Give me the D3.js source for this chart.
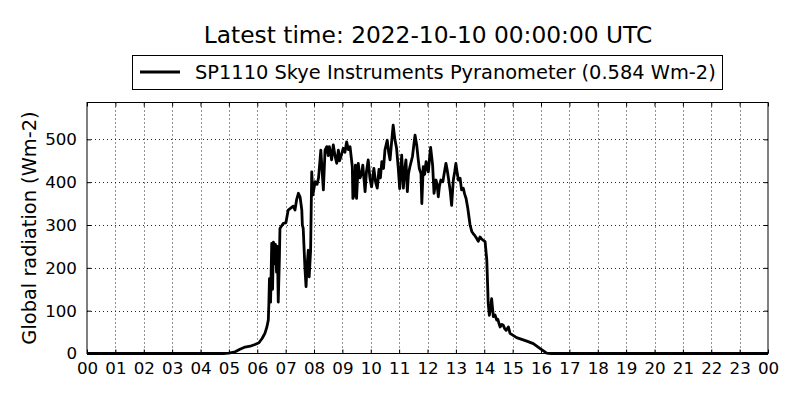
<!DOCTYPE html>
<html>
<head>
<meta charset="utf-8">
<script src="https://cdn.jsdelivr.net/npm/d3@7"></script>
<style>
  body { margin: 0; background: #fff; }
  svg { display: block; font-family: "DejaVu Sans", sans-serif; }
</style>
</head>
<body>
<svg id="chart" width="800" height="400"></svg>
<script>
// ---- data ----
const titleText = "Latest time: 2022-10-10 00:00:00 UTC";
const seriesName = "SP1110 Skye Instruments Pyranometer (0.584 Wm-2)";
const yLabel = "Global radiation (Wm-2)";
const hourTicks = d3.range(0, 25);
const hourTickLabels = hourTicks.map(h => String(h % 24).padStart(2, "0"));
const yTicks = [0, 100, 200, 300, 400, 500];
const yMax = 586;

const hours = [
  0, 1, 2, 3, 4, 4.8, 5.0, 5.22, 5.39, 5.57, 5.75, 5.92, 6.06, 6.17, 6.27, 6.34, 6.39,
  6.41, 6.43, 6.47, 6.51, 6.54, 6.57, 6.61, 6.64, 6.68, 6.71, 6.74, 6.78, 6.80, 6.92,
  7.01, 7.09, 7.19, 7.27, 7.33, 7.39, 7.45, 7.51, 7.57, 7.59, 7.62, 7.68, 7.72, 7.75,
  7.80, 7.83, 7.88, 7.92, 7.96, 8.04, 8.11, 8.16, 8.24, 8.33, 8.39, 8.45, 8.50, 8.54,
  8.58, 8.62, 8.68, 8.74, 8.80, 8.86, 8.90, 8.95, 9.03, 9.09, 9.15, 9.21, 9.27, 9.35,
  9.37, 9.42, 9.46, 9.50, 9.56, 9.62, 9.68, 9.72, 9.80, 9.85, 9.91, 9.97, 10.03, 10.11,
  10.17, 10.23, 10.29, 10.34, 10.39, 10.45, 10.50, 10.58, 10.63, 10.68, 10.73, 10.79,
  10.85, 10.91, 10.97, 11.02, 11.09, 11.15, 11.20, 11.24, 11.29, 11.33, 11.38, 11.47,
  11.56, 11.62, 11.67, 11.71, 11.77, 11.80, 11.85, 11.90, 11.95, 12.03, 12.07, 12.11,
  12.18, 12.23, 12.30, 12.34, 12.38, 12.42, 12.47, 12.54, 12.60, 12.65, 12.69, 12.73,
  12.80, 12.85, 12.91, 12.96, 13.00, 13.05, 13.09, 13.15, 13.20, 13.26, 13.31, 13.36,
  13.42, 13.50, 13.56, 13.61, 13.67, 13.73, 13.79, 13.85, 13.90, 13.95, 14.03, 14.09,
  14.14, 14.18, 14.22, 14.26, 14.32, 14.38, 14.44, 14.48, 14.52, 14.56, 14.62, 14.67,
  14.72, 14.77, 14.85, 14.91, 15.14, 15.50, 15.73, 15.96, 16.20, 16.35,
  17, 18, 19, 20, 21, 22, 23, 24
];
const radiation = [
  0, 0, 0, 0, 0, 0, 1, 4, 10, 15, 17, 21, 25, 35, 47, 62, 78,
  117, 175, 120, 257, 150, 260, 210, 255, 190, 250, 120, 220, 292, 304,
  305, 335, 340, 344, 335, 360, 374, 365, 335, 300, 292, 200, 156, 200,
  241, 179, 240, 424, 370, 401, 395, 410, 475, 382, 475, 483, 462, 483,
  470, 452, 487, 462, 444, 475, 450, 460, 479, 470, 494, 476, 483, 436,
  362, 370, 440, 362, 444, 410, 420, 440, 378, 425, 452, 410, 389, 432,
  400, 386, 430, 410, 448, 432, 475, 498, 470, 452, 490, 533,
  500, 479, 432, 385, 463, 386, 430, 452, 378, 420, 436, 460,
  510, 487, 455, 432, 420, 350, 436, 418, 448, 424, 455, 481,
  440, 374, 405, 395, 366, 390, 405, 401, 425, 444, 430, 413,
  380, 346, 405, 425, 444, 420, 405, 409, 382, 386, 372, 362,
  339, 300, 285, 280, 275, 269, 262, 272, 268, 265, 261, 218,
  117, 89, 105, 128, 86, 90, 78, 80, 70, 62, 68, 66,
  58, 54, 62, 47, 37, 29, 23, 12, 1, 0,
  0, 0, 0, 0, 0, 0, 0, 0
];

// ---- layout ----
const W = 800, H = 400;
const margin = { left: 87, right: 32, top: 102.5, bottom: 46.5 };
const iw = W - margin.left - margin.right;
const ih = H - margin.top - margin.bottom;

const svg = d3.select("#chart");
svg.append("rect").attr("width", W).attr("height", H).attr("fill", "#fff");

const x = d3.scaleLinear().domain([0, 24]).range([margin.left, margin.left + iw]);
const y = d3.scaleLinear().domain([0, yMax]).range([margin.top + ih, margin.top]);

// grid
const grid = svg.append("g").attr("stroke", "#000").attr("stroke-width", 1)
  .attr("stroke-dasharray", "1,3").attr("opacity", 0.85);
grid.selectAll("line.vx").data(hourTicks.slice(1, -1)).join("line")
  .attr("x1", d => Math.round(x(d)) + 0.5).attr("x2", d => Math.round(x(d)) + 0.5)
  .attr("y1", margin.top).attr("y2", margin.top + ih);
grid.selectAll("line.hy").data(yTicks.slice(1)).join("line")
  .attr("y1", d => Math.round(y(d)) + 0.5).attr("y2", d => Math.round(y(d)) + 0.5)
  .attr("x1", margin.left).attr("x2", margin.left + iw);

// data line
const line = d3.line().x((d, i) => x(hours[i])).y(d => y(d));
svg.append("path").datum(radiation)
  .attr("d", line)
  .attr("fill", "none").attr("stroke", "#000").attr("stroke-width", 2.8)
  .attr("stroke-linejoin", "round");

// axes with inward ticks (classic style)
const axB = d3.axisBottom(x).tickValues(hourTicks).tickFormat((d, i) => hourTickLabels[i])
  .tickSizeInner(-4).tickSizeOuter(0).tickPadding(9);
const gB = svg.append("g").attr("transform", `translate(0,${margin.top + ih})`).call(axB);
const axT = d3.axisTop(x).tickValues(hourTicks).tickFormat("").tickSizeInner(-4).tickSizeOuter(0);
const gT = svg.append("g").attr("transform", `translate(0,${margin.top})`).call(axT);
const axL = d3.axisLeft(y).tickValues(yTicks).tickFormat(d3.format("d"))
  .tickSizeInner(-4).tickSizeOuter(0).tickPadding(10);
const gL = svg.append("g").attr("transform", `translate(${margin.left},0)`).call(axL);
const axR = d3.axisRight(y).tickValues(yTicks).tickFormat("").tickSizeInner(-4).tickSizeOuter(0);
const gR = svg.append("g").attr("transform", `translate(${margin.left + iw},0)`).call(axR);

[gB, gT, gL, gR].forEach(g => {
  g.select(".domain").remove();
  g.selectAll(".tick line").attr("stroke", "#000").attr("stroke-width", 1);
  g.selectAll(".tick text").attr("fill", "#000")
    .style("font-family", "'DejaVu Sans', sans-serif").style("font-size", "16.7px");
});

// frame
svg.append("rect").attr("x", margin.left).attr("y", margin.top)
  .attr("width", iw).attr("height", ih)
  .attr("fill", "none").attr("stroke", "#000").attr("stroke-width", 1);

// y label
svg.append("text")
  .attr("transform", `translate(35.5,${margin.top + ih / 2}) rotate(-90)`)
  .attr("text-anchor", "middle")
  .style("font-size", "19.4px").attr("fill", "#000")
  .text(yLabel);

// title
svg.append("text").attr("x", margin.left + iw / 2 + 0.5).attr("y", 42.5)
  .attr("text-anchor", "middle").style("font-size", "23.3px").attr("fill", "#000")
  .text(titleText);

// legend
const lg = svg.append("g");
lg.append("rect").attr("x", 132.5).attr("y", 55.5).attr("width", 590).attr("height", 34)
  .attr("fill", "#fff").attr("stroke", "#000").attr("stroke-width", 1);
lg.append("line").attr("x1", 140).attr("x2", 180).attr("y1", 72).attr("y2", 72)
  .attr("stroke", "#000").attr("stroke-width", 2.8);
lg.append("text").attr("x", 195).attr("y", 79).style("font-size", "19.4px").attr("fill", "#000")
  .text(seriesName);
</script>
</body>
</html>
